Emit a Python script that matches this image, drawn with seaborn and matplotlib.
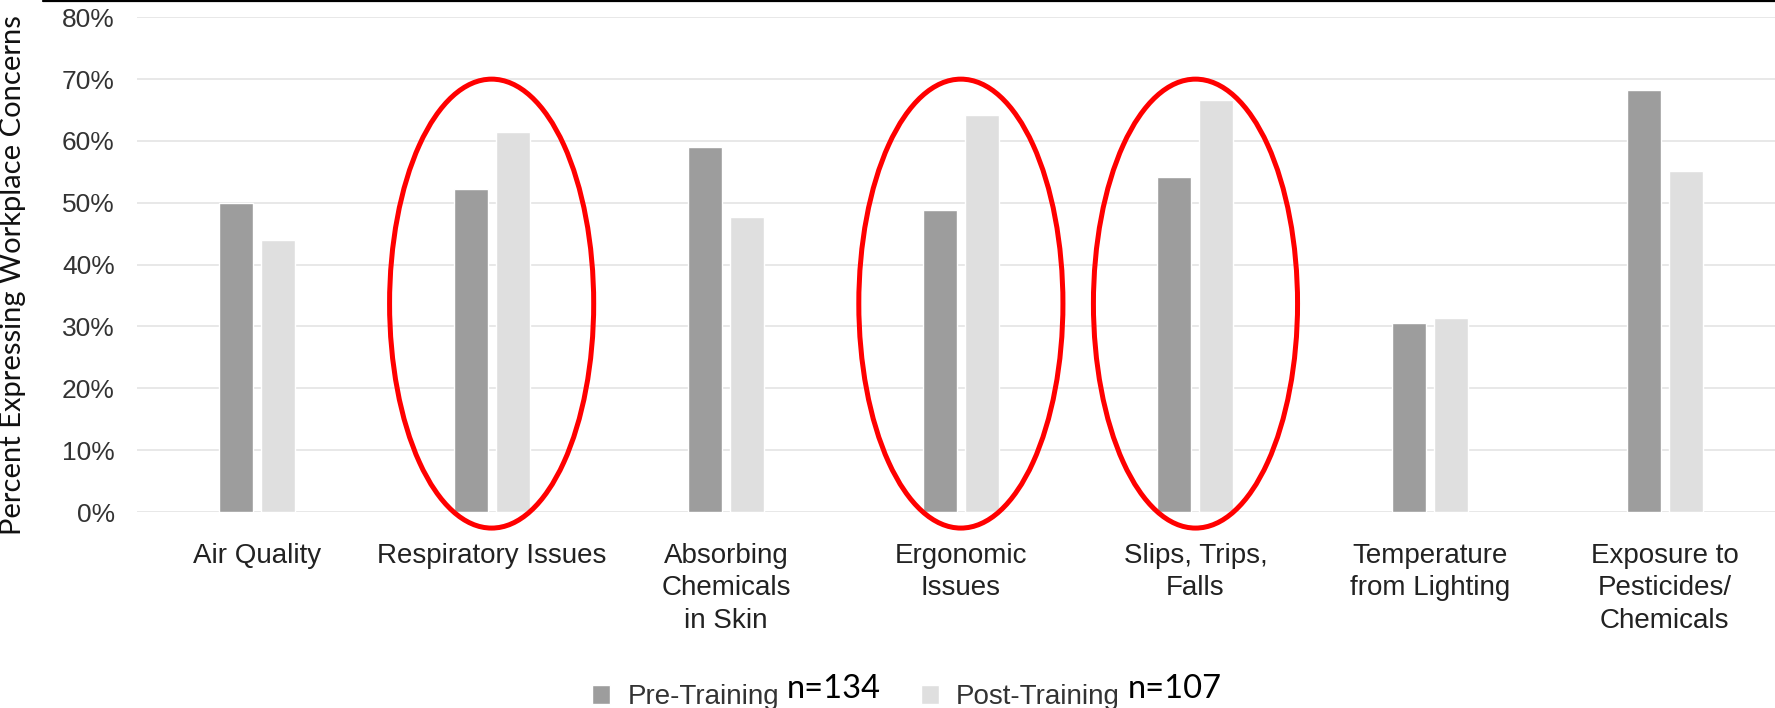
import matplotlib
matplotlib.use("Agg")
import matplotlib.pyplot as plt
from matplotlib.patches import Ellipse
from matplotlib.lines import Line2D
from matplotlib.ticker import FuncFormatter
import seaborn as sns
import pandas as pd

# ---- data ----
categories = ["Air Quality", "Respiratory Issues", "Absorbing\nChemicals\nin Skin",
              "Ergonomic\nIssues", "Slips, Trips,\nFalls", "Temperature\nfrom Lighting",
              "Exposure to\nPesticides/\nChemicals"]
pre_training = [50.0, 52.3, 59.1, 48.9, 54.2, 30.6, 68.2]
post_training = [44.0, 61.4, 47.7, 64.2, 66.7, 31.4, 55.2]
groups = ["Pre-Training", "Post-Training"]
group_n = ["n=134", "n=107"]
highlighted = ["Respiratory Issues", "Ergonomic\nIssues", "Slips, Trips,\nFalls"]
y_ticks = [0, 10, 20, 30, 40, 50, 60, 70, 80]

df = pd.DataFrame({
    "category": categories * 2,
    "group": [groups[0]] * len(categories) + [groups[1]] * len(categories),
    "value": pre_training + post_training,
})

sns.set_theme(style="white")
plt.rcParams["font.family"] = ["Liberation Sans", "DejaVu Sans"]

W, H = 1775, 708
fig = plt.figure(figsize=(W / 100, H / 100), dpi=100, facecolor="white")
ax = fig.add_axes([137 / W, 1 - 512 / H, (W - 137) / W, (512 - 17.3) / H])
ax.set_facecolor("white")

sns.barplot(data=df, x="category", y="value", hue="group", order=categories,
            hue_order=groups, palette=["#9d9d9d", "#dfdfdf"], width=0.358, gap=0.19,
            saturation=1, ax=ax, zorder=3)

ax.set_ylim(0, 80)
ax.set_xlim(-0.5115, 6.47)
ax.set_yticks(y_ticks)
ax.yaxis.set_major_formatter(FuncFormatter(lambda v, p: f"{v:.0f}%"))
ax.grid(axis="y", color="#e6e6e6", linewidth=1.3, zorder=0)
ax.grid(axis="x", visible=False)
ax.set_axisbelow(True)
for s in ax.spines.values():
    s.set_visible(False)
ax.tick_params(axis="x", length=0, pad=22, labelsize=20, labelcolor="#222222")
ax.tick_params(axis="y", length=0, pad=16, labelsize=19, labelcolor="#333333")
for lbl in ax.get_xticklabels():
    lbl.set_multialignment("center")
    lbl.set_linespacing(1.34)
ax.set_xlabel("")
ax.set_ylabel("Percent Expressing Workplace Concerns", fontsize=21,
              family=["Lato", "DejaVu Sans"], color="#111111")
ax.yaxis.set_label_coords((13 - 137) / (W - 137), (512 - 275) / (512 - 17.3))
ax.yaxis.label.set_va("center")

# red highlight ellipses
for name in highlighted:
    i = categories.index(name)
    ax.add_patch(Ellipse((i, 33.7), 0.87, 72.6, fill=False, edgecolor="#ff0000",
                         linewidth=3.6, clip_on=False, zorder=5))

# legend
handles, labels = ax.get_legend_handles_labels()
leg = ax.legend(handles, labels, loc="center left", bbox_to_anchor=(592 / W, 11 / H),
                bbox_transform=fig.transFigure, ncol=2, frameon=False, fontsize=20,
                handlelength=0.65, handleheight=0.65, handletextpad=0.62,
                columnspacing=5.1, borderpad=0, borderaxespad=0, labelcolor="#333333")

fig.canvas.draw()
for txt, n in zip(leg.get_texts(), group_n):
    bb = txt.get_window_extent()
    fig.text((bb.x1 + 8) / W, 10 / H, n, ha="left", va="baseline", fontsize=23.5,
             family=["Lato", "DejaVu Sans"], color="black")

# top rule
fig.add_artist(Line2D([43 / W, 1], [1 - 1 / H, 1 - 1 / H], color="black",
                      linewidth=1.6, transform=fig.transFigure))

fig.savefig("out.png", dpi=100, facecolor="white")
